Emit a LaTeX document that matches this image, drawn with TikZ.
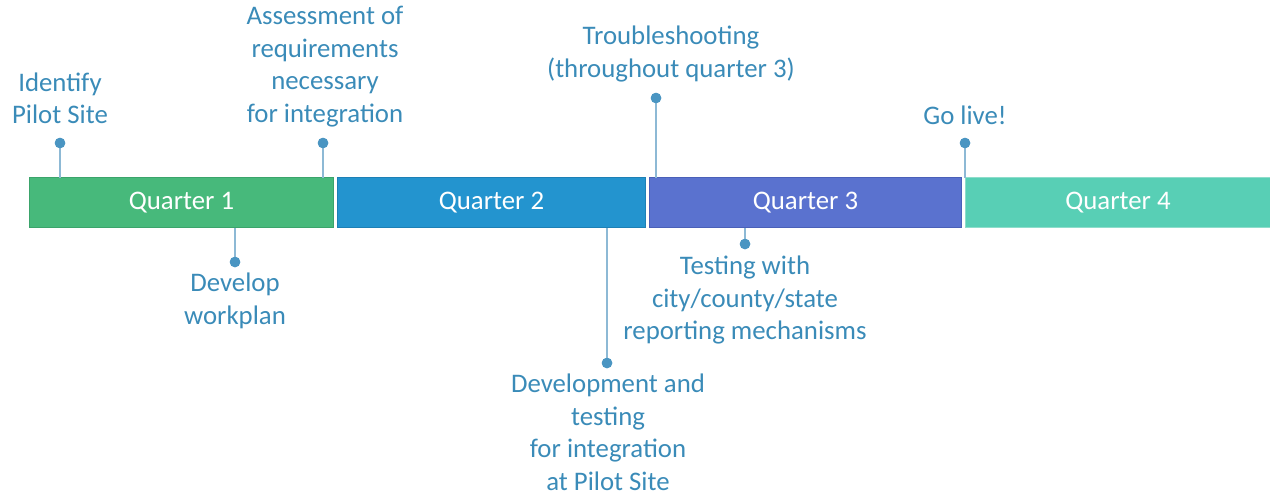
\documentclass[tikz,border=0pt]{standalone}
\usepackage{fontspec}
\setmainfont{Carlito}
\definecolor{qone}{HTML}{47B97B}
\definecolor{qoneb}{HTML}{3BA46B}
\definecolor{qtwo}{HTML}{2394CF}
\definecolor{qtwob}{HTML}{1D80B5}
\definecolor{qthree}{HTML}{5A72CF}
\definecolor{qthreeb}{HTML}{4A60B8}
\definecolor{qfour}{HTML}{58CFB5}
\definecolor{qfourb}{HTML}{8EDDCB}
\definecolor{lbl}{HTML}{3A8BB8}
\definecolor{pin}{HTML}{4A95C2}
\definecolor{stem}{HTML}{8DB9D5}
\begin{document}
\begin{tikzpicture}[x=1pt,y=-1pt,
  quarter/.style={draw=#1b, fill=#1, line width=1pt, minimum height=50pt, inner sep=0pt, text=white, font=\fontsize{26.8}{32.5}\selectfont},
  lab/.style={text=lbl, align=center, inner sep=0pt, font=\fontsize{26.8}{32.5}\selectfont},
  dot/.style={circle, fill=pin, inner sep=0pt, minimum size=10.5pt},
  stemline/.style={draw=stem, line width=1.6pt}]
\useasboundingbox (0,0) rectangle (1270,496);
% bars
\node[quarter=qone, minimum width=304pt] (q1) at (181.5,202.5) {Quarter 1};
\node[quarter=qtwo, minimum width=308pt] (q2) at (491.5,202.5) {Quarter 2};
\node[quarter=qthree, minimum width=312pt] (q3) at (805.5,202.5) {Quarter 3};
\node[quarter=qfour, minimum width=306pt] (q4) at (1118,202.5) {Quarter 4};
% pin coordinates on bars
\coordinate (b1) at (60,177.5);
\coordinate (b2) at (323,177.5);
\coordinate (b3) at (235,228);
\coordinate (b4) at (607,228);
\coordinate (b5) at (656,177.5);
\coordinate (b6) at (745,228);
\coordinate (b7) at (965,177.5);
% dots
\node[dot] (d1) at (60,143) {};
\node[dot] (d2) at (323,143) {};
\node[dot] (d3) at (235,262) {};
\node[dot] (d4) at (607,363) {};
\node[dot] (d5) at (656,98) {};
\node[dot] (d6) at (745,244) {};
\node[dot] (d7) at (965,143) {};
\draw[stemline] (b1) -- (d1.center);
\draw[stemline] (b2) -- (d2.center);
\draw[stemline] (b3) -- (d3.center);
\draw[stemline] (b4) -- (d4.center);
\draw[stemline] (b5) -- (d5.center);
\draw[stemline] (b6) -- (d6.center);
\draw[stemline] (b7) -- (d7.center);
\foreach \d in {d1,d2,d3,d4,d5,d6,d7} \node[dot] at (\d) {};
% labels
\node[lab] (t1) at (60,98.5) {Identify\\Pilot Site};
\node[lab] (t2) at (325,66.5) {Assessment of\\requirements\\necessary\\for integration};
\node[lab] (t3) at (671,54) {Troubleshooting\\(throughout quarter 3)};
\node[lab] (t4) at (965,115) {Go live!};
\node[lab] (t5) at (235,301) {Develop\\workplan};
\node[lab] (t6) at (745,300) {Testing with\\city/county/state\\reporting mechanisms};
\node[lab] (t7) at (608,432.5) {Development and\\testing\\for integration\\at Pilot Site};
\end{tikzpicture}
\end{document}
